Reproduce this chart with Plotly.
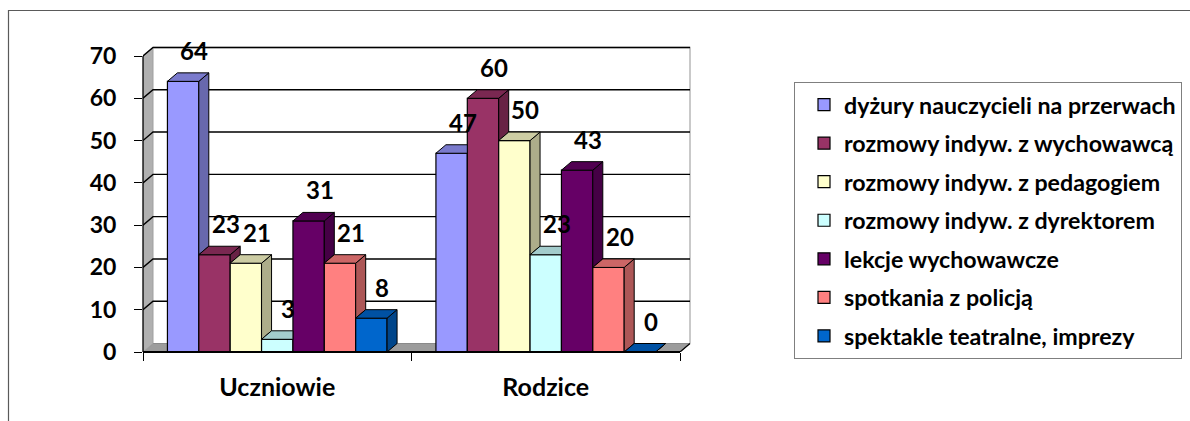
import plotly.graph_objects as go

# ---- data -------------------------------------------------------------
categories = ["Uczniowie", "Rodzice"]
series_names = [
    "dyżury nauczycieli na przerwach",
    "rozmowy indyw. z wychowawcą",
    "rozmowy indyw. z pedagogiem",
    "rozmowy indyw. z dyrektorem",
    "lekcje wychowawcze",
    "spotkania z policją",
    "spektakle teatralne, imprezy",
]
uczniowie = [64, 23, 21, 3, 31, 21, 8]
rodzice = [47, 60, 50, 23, 43, 20, 0]
y_ticks = [0, 10, 20, 30, 40, 50, 60, 70]

# ---- style ------------------------------------------------------------
front_colors = ["#9999FF", "#993366", "#FFFFCC", "#CCFFFF", "#660066", "#FF8080", "#0066CC"]
FONT = "Lato"
W, H = 1190, 421

# plot-area pixel box (includes the pseudo-3D back wall)
PL, PR, PT, PB = 143, 692, 45, 352
FRONT_TOP_PX = 56          # where the highest tick sits on the front axis
CAT_PX = 268.5             # pixel width of one category
DX_PX, DY_PX = 10, 8.5     # depth offset of the 3D projection

y_max = y_ticks[-1]
py_per_unit = (PB - FRONT_TOP_PX) / y_max
y_top = (PB - PT) / py_per_unit
x_lo = -0.5
x_hi = x_lo + (PR - PL) / CAT_PX
dxu = DX_PX / CAT_PX
dyu = DY_PX / py_per_unit

def px_x(px):
    return (px - PL) / (PR - PL)

def px_y(py):
    return (PB - py) / (PB - PT)

def shade(hex_color, f):
    h = hex_color.lstrip("#")
    r, g, b = (int(h[i:i + 2], 16) for i in (0, 2, 4))
    return "rgb({},{},{})".format(int(r * f), int(g * f), int(b * f))

n_series = len(series_names)
group_frac = 0.818
bw = group_frac / n_series
values = [uczniowie, rodzice]

fig = go.Figure()

# front faces
for k, name in enumerate(series_names):
    xs = [g - group_frac / 2 + (k + 0.5) * bw for g in range(len(categories))]
    ys = [values[g][k] for g in range(len(categories))]
    fig.add_trace(go.Bar(
        x=xs, y=ys, width=bw, name=name, legendgroup=name,
        marker=dict(color=front_colors[k], line=dict(color="black", width=1.2)),
        hoverinfo="skip",
    ))

# side and top faces, clipped where the neighbouring bar hides them
for g in range(len(categories)):
    for k in range(n_series):
        h = values[g][k]
        hn = values[g][k + 1] if k + 1 < n_series else None
        xl = g - group_frac / 2 + k * bw
        xr = xl + bw
        # right side face
        lo = hn if hn is not None else 0
        if hn is None or hn < h:
            fig.add_trace(go.Scatter(
                x=[xr, xr + dxu, xr + dxu, xr, xr],
                y=[lo, lo + dyu, h + dyu, h, lo],
                mode="lines", fill="toself",
                fillcolor=shade(front_colors[k], 0.68),
                line=dict(color="black", width=1),
                showlegend=False, hoverinfo="skip",
            ))
        # top face
        if hn is not None and hn > h:
            tx = [xl, xl + dxu, xr, xr, xl]
        else:
            tx = [xl, xl + dxu, xr + dxu, xr, xl]
        ty = [h, h + dyu, h + dyu, h, h]
        fig.add_trace(go.Scatter(
            x=tx, y=ty, mode="lines", fill="toself",
            fillcolor=shade(front_colors[k], 0.8),
            line=dict(color="black", width=1),
            showlegend=False, hoverinfo="skip",
        ))

shapes = []
front_right = x_lo + len(categories)
# floor
shapes.append(dict(
    type="path", xref="x", yref="y", layer="below",
    path="M{a},0 L{b},0 L{c},{d} L{e},{d} Z".format(
        a=x_lo, b=front_right, c=front_right + dxu, d=dyu, e=x_lo + dxu),
    fillcolor="#9C9C9C", line=dict(color="#8A8A8A", width=1),
))
# left side wall
shapes.append(dict(
    type="path", xref="x", yref="y", layer="below",
    path="M{a},0 L{a},{t} L{b},{t2} L{b},{d} Z".format(
        a=x_lo, b=x_lo + dxu, t=y_max, t2=y_max + dyu, d=dyu),
    fillcolor="#B0B0B0", line=dict(color="#A0A0A0", width=1),
))
# back wall outline
shapes.append(dict(
    type="path", xref="x", yref="y", layer="below",
    path="M{a},{t} L{b},{t} L{b},{d}".format(
        a=x_lo + dxu, b=front_right + dxu, t=y_max + dyu, d=dyu),
    line=dict(color="#B8B8B8", width=1.5),
))
# gridlines running along the side wall and the back wall
for v in y_ticks[1:]:
    shapes.append(dict(
        type="path", xref="x", yref="y", layer="below",
        path="M{a},{v} L{b},{w} L{c},{w}".format(
            a=x_lo, v=v, b=x_lo + dxu, w=v + dyu, c=front_right + dxu),
        line=dict(color="black", width=1.4),
    ))
# right edge of the floor
shapes.append(dict(
    type="line", xref="x", yref="y", layer="above",
    x0=front_right, y0=0, x1=front_right + dxu, y1=dyu,
    line=dict(color="black", width=1.2),
))
# front value axis and category axis lines
shapes.append(dict(type="line", xref="paper", yref="paper",
                   x0=0, x1=0, y0=0, y1=y_max / y_top,
                   line=dict(color="black", width=1.3)))
shapes.append(dict(type="line", xref="paper", yref="paper",
                   x0=0, x1=(front_right - x_lo) / (x_hi - x_lo), y0=0, y1=0,
                   line=dict(color="black", width=2)))
# outer chart frame
shapes.append(dict(type="rect", xref="paper", yref="paper", layer="below",
                   x0=px_x(8.5), x1=px_x(1300), y0=px_y(10.5), y1=px_y(600),
                   line=dict(color="#5A5A5A", width=1.2), fillcolor="rgba(0,0,0,0)"))

# value labels above each bar
annotations = []
for g in range(len(categories)):
    for k in range(n_series):
        v = values[g][k]
        annotations.append(dict(
            x=g - group_frac / 2 + (k + 0.5) * bw, y=v, xref="x", yref="y",
            text=str(v), showarrow=False, xshift=11, yshift=31,
            font=dict(family=FONT, size=24, color="black", weight="bold"),
        ))

fig.update_layout(
    width=W, height=H,
    margin=dict(l=PL, r=W - PR, t=PT, b=H - PB, autoexpand=False),
    paper_bgcolor="white", plot_bgcolor="rgba(0,0,0,0)",
    barmode="overlay",
    showlegend=True,
    legend=dict(
        x=px_x(794), y=px_y(82), xanchor="left", yanchor="top",
        bordercolor="#7F7F7F", borderwidth=1, bgcolor="white",
        font=dict(family=FONT, size=23.2, color="black", weight="bold"),
        tracegroupgap=5.4, traceorder="grouped", indentation=9,
    ),
    xaxis=dict(
        range=[x_lo, x_hi], tickmode="array", tickvals=[0, 1], ticktext=categories,
        ticks="", showgrid=False, zeroline=False, showline=False,
        tickfont=dict(family=FONT, size=25, color="black", weight="bold"),
        ticklabelstandoff=18,
        minor=dict(tickmode="array", tickvals=[-0.5, 0.5, 1.5], ticks="outside",
                   ticklen=8, tickcolor="black", tickwidth=1, showgrid=False),
    ),
    yaxis=dict(
        range=[0, y_top], tickmode="array", tickvals=y_ticks,
        ticks="outside", ticklen=8, tickcolor="black", tickwidth=1,
        showgrid=False, zeroline=False, showline=False,
        tickfont=dict(family=FONT, size=23, color="black", weight="bold"),
        ticklabelstandoff=13,
    ),
    shapes=shapes,
    annotations=annotations,
)

fig.write_html("out.html")
